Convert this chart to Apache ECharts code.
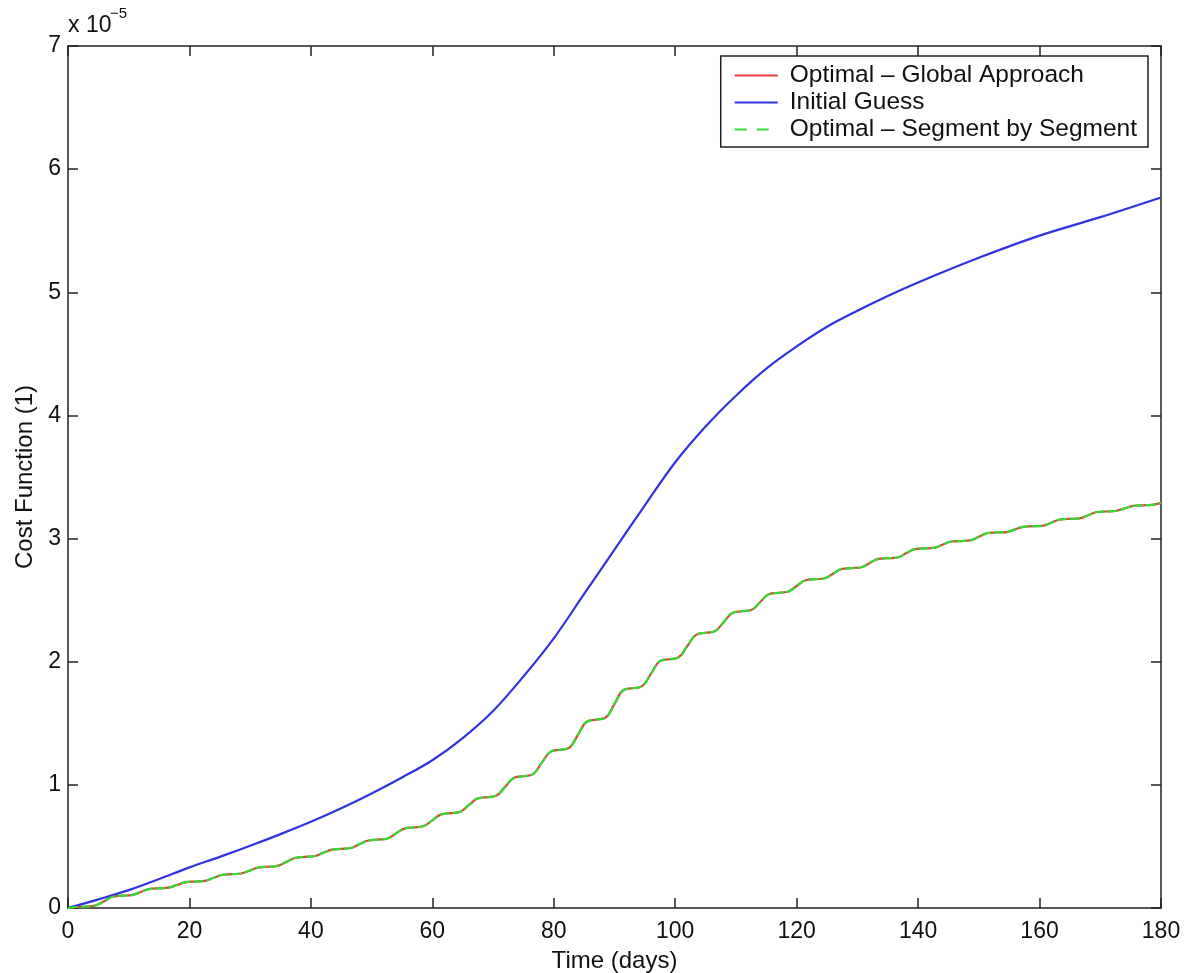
<!DOCTYPE html>
<html>
<head>
<meta charset="utf-8">
<script src="https://cdn.jsdelivr.net/npm/echarts@6/dist/echarts.min.js"></script>
<style>
  html, body { margin: 0; padding: 0; background: #fff; }
  #chart { width: 1186px; height: 973px; }
</style>
</head>
<body>
<div id="chart"></div>
<script>
// Tick labels
const xTicks = [0, 20, 40, 60, 80, 100, 120, 140, 160, 180];
const yTicks = [0, 1, 2, 3, 4, 5, 6, 7];

// Series names
const nameGlobal = 'Optimal \u2013 Global Approach';
const nameGuess = 'Initial Guess';
const nameSegment = 'Optimal \u2013 Segment by Segment';

// Initial guess: [day, cost (x 1e-5)]
const guessData = [
  [0, 0], [5, 0.07], [10, 0.145], [15, 0.235], [20, 0.33], [25, 0.415], [30, 0.505],
  [35, 0.60], [40, 0.70], [45, 0.81], [50, 0.93], [55, 1.06], [60, 1.20],
  [65, 1.38], [70, 1.60], [75, 1.88], [80, 2.19], [85, 2.55], [90, 2.91],
  [95, 3.27], [100, 3.62], [105, 3.91], [110, 4.16], [115, 4.38], [120, 4.56],
  [125, 4.72], [130, 4.85], [135, 4.97], [140, 5.08], [150, 5.28], [160, 5.46],
  [170, 5.61], [180, 5.77]
];

// Optimal trajectory (global and segment-by-segment coincide): [day, cost (x 1e-5)]
const optimalData = [
  [0, 0], [1.5, 0.008], [3, 0.012], [4.5, 0.02], [6, 0.056], [7.5, 0.093],
  [9, 0.10], [10.5, 0.105], [12, 0.13], [13.5, 0.155], [15, 0.16], [16.5, 0.165],
  [18, 0.188], [19.5, 0.21], [21, 0.215], [22.5, 0.22], [24, 0.245], [25.5, 0.27],
  [27, 0.275], [28.5, 0.28], [30, 0.305], [31.5, 0.33], [33, 0.335], [34.5, 0.342],
  [36, 0.375], [37.5, 0.408], [39, 0.415], [40.5, 0.42], [42, 0.448], [43.5, 0.474],
  [45, 0.48], [46.5, 0.487], [48, 0.518], [49.5, 0.548], [51, 0.555], [52.5, 0.562],
  [54, 0.605], [55.5, 0.647], [57, 0.655], [58.5, 0.664], [60, 0.712], [61.5, 0.76],
  [63, 0.77], [64.5, 0.78], [66, 0.835], [67.5, 0.89], [69, 0.90], [70.5, 0.912],
  [72, 0.985], [73.5, 1.058], [75, 1.07], [76.5, 1.085], [78, 1.178], [79.5, 1.27],
  [81, 1.285], [82.5, 1.30], [84, 1.408], [85.5, 1.515], [87, 1.53], [88.5, 1.545],
  [90, 1.657], [91.5, 1.77], [93, 1.785], [94.5, 1.80], [96, 1.902], [97.5, 2.005],
  [99, 2.02], [100.5, 2.035], [102, 2.128], [103.5, 2.22], [105, 2.235], [106.5, 2.248],
  [108, 2.322], [109.5, 2.398], [111, 2.41], [112.5, 2.42], [114, 2.485], [115.5, 2.55],
  [117, 2.56], [118.5, 2.568], [120, 2.615], [121.5, 2.662], [123, 2.67], [124.5, 2.676],
  [126, 2.715], [127.5, 2.754], [129, 2.76], [130.5, 2.765], [132, 2.80], [133.5, 2.835],
  [135, 2.84], [136.5, 2.845], [138, 2.88], [139.5, 2.915], [141, 2.92], [142.5, 2.924],
  [144, 2.95], [145.5, 2.976], [147, 2.98], [148.5, 2.985], [150, 3.015], [151.5, 3.045],
  [153, 3.05], [154.5, 3.053], [156, 3.075], [157.5, 3.097], [159, 3.10], [160.5, 3.104],
  [162, 3.13], [163.5, 3.156], [165, 3.16], [166.5, 3.164], [168, 3.19], [169.5, 3.216],
  [171, 3.22], [172.5, 3.224], [174, 3.245], [175.5, 3.266], [177, 3.27], [178.5, 3.274],
  [180, 3.29]
];

const FONT = '"Liberation Sans", Arial, Helvetica, sans-serif';
const AXIS_COLOR = '#222';
const TEXT_COLOR = '#111';
const RED = 'rgb(235,60,60)';
const BLUE = 'rgb(50,50,225)';
const GREEN = 'rgb(50,220,50)';

const chart = echarts.init(document.getElementById('chart'), null, { renderer: 'canvas' });

const tickStyle = { show: true, inside: true, length: 10, lineStyle: { color: AXIS_COLOR, width: 1.5 } };
const lineAxis = { show: true, onZero: false, lineStyle: { color: AXIS_COLOR, width: 1.5 } };

chart.setOption({
  animation: false,
  backgroundColor: '#fff',
  grid: { left: 68, right: 25, top: 46, bottom: 65, containLabel: false, outerBoundsMode: 'none' },
  legend: {
    orient: 'vertical',
    right: 38,
    top: 56,
    data: [
      { name: nameGlobal },
      { name: nameGuess },
      { name: nameSegment, lineStyle: { type: [12, 10] } }
    ],
    itemWidth: 43,
    itemHeight: 14,
    itemGap: 0,
    padding: [6, 11, 4, 13],
    borderColor: AXIS_COLOR,
    borderWidth: 1.5,
    backgroundColor: '#fff',
    itemStyle: { opacity: 0 },
    textStyle: { fontFamily: FONT, fontSize: 24.5, color: TEXT_COLOR, lineHeight: 27, padding: [0, 0, 0, 7] }
  },
  graphic: [{
    type: 'text',
    style: { x: 68, y: 26, text: 'x 10', fontFamily: FONT, fontSize: 23, fill: TEXT_COLOR, verticalAlign: 'middle' },
    z: 10
  }, {
    type: 'text',
    style: { x: 110, y: 14, text: '\u22125', fontFamily: FONT, fontSize: 15, fill: TEXT_COLOR, verticalAlign: 'middle' },
    z: 10
  }],
  xAxis: [{
    type: 'value',
    position: 'bottom',
    min: 0, max: 180, interval: 20,
    name: 'Time (days)',
    nameLocation: 'middle',
    nameGap: 41,
    nameTextStyle: { fontFamily: FONT, fontSize: 24, color: TEXT_COLOR },
    axisLine: lineAxis,
    axisTick: tickStyle,
    axisLabel: { margin: 12, fontFamily: FONT, fontSize: 23, color: TEXT_COLOR,
      formatter: v => (xTicks.indexOf(v) >= 0 ? String(v) : '') },
    splitLine: { show: false }
  }, {
    type: 'value',
    position: 'top',
    min: 0, max: 180, interval: 20,
    axisLine: lineAxis,
    axisTick: tickStyle,
    axisLabel: { show: false },
    splitLine: { show: false }
  }],
  yAxis: [{
    type: 'value',
    position: 'left',
    min: 0, max: 7, interval: 1,
    name: 'Cost Function (1)',
    nameLocation: 'middle',
    nameGap: 30,
    nameTextStyle: { fontFamily: FONT, fontSize: 24, color: TEXT_COLOR },
    axisLine: lineAxis,
    axisTick: tickStyle,
    axisLabel: { margin: 7, fontFamily: FONT, fontSize: 23, color: TEXT_COLOR,
      formatter: v => (yTicks.indexOf(v) >= 0 ? String(v) : '') },
    splitLine: { show: false }
  }, {
    type: 'value',
    position: 'right',
    min: 0, max: 7, interval: 1,
    axisLine: lineAxis,
    axisTick: tickStyle,
    axisLabel: { show: false },
    splitLine: { show: false }
  }],
  series: [{
    name: nameGlobal,
    type: 'line',
    data: optimalData,
    smooth: 0.45,
    symbol: 'none',
    lineStyle: { color: RED, width: 2.2 },
    itemStyle: { color: RED },
    z: 2
  }, {
    name: nameGuess,
    type: 'line',
    data: guessData,
    smooth: 0.35,
    symbol: 'none',
    lineStyle: { color: BLUE, width: 2.2 },
    itemStyle: { color: BLUE },
    z: 2
  }, {
    name: nameSegment,
    type: 'line',
    data: optimalData,
    smooth: 0.45,
    symbol: 'none',
    lineStyle: { color: GREEN, width: 2.2, type: [10, 3] },
    itemStyle: { color: GREEN },
    z: 3
  }]
});
</script>
</body>
</html>
